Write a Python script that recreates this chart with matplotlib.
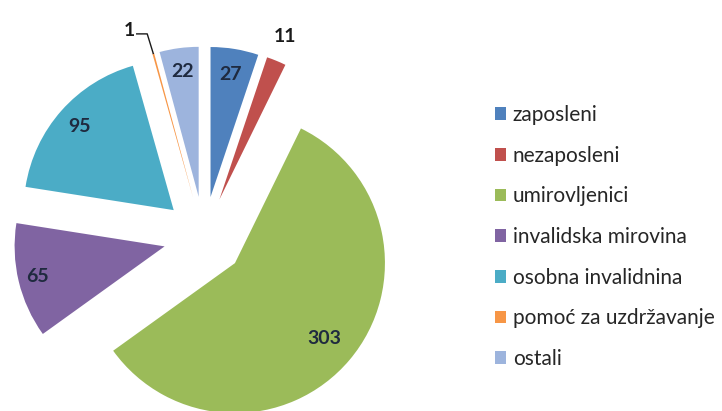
import numpy as np
import matplotlib.pyplot as plt
from matplotlib.patches import Patch

categories = ['zaposleni', 'nezaposleni', 'umirovljenici', 'invalidska mirovina',
              'osobna invalidnina', 'pomoć za uzdržavanje', 'ostali']
values = [27, 11, 303, 65, 95, 1, 22]
colors = ['#4F81BD', '#C0504D', '#9BBB59', '#8064A2', '#4BACC6', '#F79646', '#9DB4DD']

plt.rcParams['font.family'] = ['Lato', 'DejaVu Sans']

fig = plt.figure(figsize=(7.22, 4.11), dpi=100)
W, H = 722, 411
# pie axes covers the left part; 150 px per data unit, centre at (204, 237) from top
ax = fig.add_axes([0, 0, 430 / W, 1])
scale = 150.0
cx, cy = 204, H - 237

explode = [0.27] * len(values)
wedges, _ = ax.pie(values, colors=colors, explode=explode, startangle=90,
                   counterclock=False, radius=1.0,
                   wedgeprops=dict(linewidth=0))
ax.set_aspect('auto')
ax.set_xlim(-cx / scale, (430 - cx) / scale)
ax.set_ylim(-cy / scale, (H - cy) / scale)
ax.axis('off')

# label placement (distance from the shifted slice centre)
inside = {0: 0.83, 2: 0.78, 3: 0.87, 4: 0.84, 6: 0.84}
total = sum(values)
start = 90.0
for i, (v, w) in enumerate(zip(values, wedges)):
    span = 360.0 * v / total
    mid = np.deg2rad(start - span / 2)
    start -= span
    ox, oy = 0.27 * np.cos(mid), 0.27 * np.sin(mid)
    if i in inside:
        d = inside[i]
        ax.text(ox + d * np.cos(mid), oy + d * np.sin(mid), str(v),
                ha='center', va='center', fontsize=14, fontweight='bold',
                color='#1F2A3F')
    elif i == 1:
        d = 1.15
        ax.text(ox + d * np.cos(mid), oy + d * np.sin(mid) + 0.02, str(v),
                ha='center', va='center', fontsize=14, fontweight='bold',
                color='#1A1A1A')
    else:
        ex, ey = ox + 1.0 * np.cos(mid), oy + 1.0 * np.sin(mid)
        lx, ly = ex - 0.04, ey + 0.13
        ax.plot([ex, lx, lx - 0.07], [ey, ly, ly], color='#1A1A1A', lw=1)
        ax.text(lx - 0.08, ly + 0.02, str(v), ha='right', va='center',
                fontsize=14, fontweight='bold', color='#1A1A1A')

handles = [Patch(facecolor=c, edgecolor='none') for c in colors]
fig.legend(handles, categories, loc='center left',
           bbox_to_anchor=(495 / W, 1 - 237 / H), frameon=False,
           fontsize=15, handlelength=0.55, handleheight=0.55, handletextpad=0.3,
           labelspacing=0.99, borderpad=0, borderaxespad=0,
           labelcolor='#262626')

fig.savefig('out.png', dpi=100)
